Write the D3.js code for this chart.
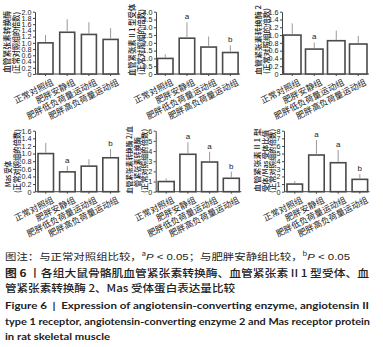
<!DOCTYPE html>
<html>
<head>
<meta charset="utf-8">
<script src="https://cdn.jsdelivr.net/npm/d3@7"></script>
<style>
  body { margin: 0; background: #fff; }
  svg { display: block; font-family: "Liberation Sans", Arial, sans-serif; }
  .cn { font-family: "Noto Sans CJK SC", sans-serif; }
  .en { font-family: Lato, "Open Sans", sans-serif; }
</style>
</head>
<body>
<svg id="chart" width="383" height="347"></svg>
<script>
// groups on the x axis
const groups = ["正常对照组", "肥胖安静组", "肥胖低负荷量运动组", "肥胖高负荷量运动组"];

// ACE
const aceMean = [1.0, 1.34, 1.27, 1.11];
const aceSd = [0.25, 0.42, 0.39, 0.36];
const aceSig = ["", "", "", ""];
const aceTicks = [0, 0.2, 0.4, 0.6, 0.8, 1.0, 1.2, 1.4, 1.6, 1.8, 2.0];

// AT1R
const at1Mean = [1.0, 2.3, 1.73, 1.38];
const at1Sd = [0.26, 1.02, 0.68, 0.46];
const at1Sig = ["", "a", "", "b"];
const at1Ticks = [0, 0.5, 1.0, 1.5, 2.0, 2.5, 3.0, 3.5, 4.0];

// ACE2
const ace2Mean = [1.0, 0.64, 0.855, 0.77];
const ace2Sd = [0.3, 0.17, 0.26, 0.21];
const ace2Sig = ["", "a", "", ""];
const ace2Ticks = [0, 0.2, 0.4, 0.6, 0.8, 1.0, 1.2, 1.4, 1.6];

// Mas
const masMean = [1.0, 0.52, 0.67, 0.89];
const masSd = [0.28, 0.15, 0.18, 0.23];
const masSig = ["", "a", "", "b"];
const masTicks = [0, 0.2, 0.4, 0.6, 0.8, 1.0, 1.2, 1.4, 1.6];

// ACE2/ACE
const ratio1Mean = [1.0, 3.68, 2.92, 1.32];
const ratio1Sd = [0.3, 1.18, 1.01, 0.65];
const ratio1Sig = ["", "a", "a", "b"];
const ratio1Ticks = [0, 1, 2, 3, 4, 5, 6];

// AT1R/Mas
const ratio2Mean = [1.0, 4.81, 3.8, 1.62];
const ratio2Sd = [0.4, 1.97, 1.67, 0.7];
const ratio2Sig = ["", "a", "a", "b"];
const ratio2Ticks = [0, 1, 2, 3, 4, 5, 6, 7, 8];

// y labels, one list of lines per panel
const aceLabel = ["血管紧张素转换酶", "(正常对照组的倍数)"];
const at1Label = ["血管紧张素 II 1 型受体", "(正常对照组的倍数)"];
const ace2Label = ["血管紧张素转换酶 2", "(正常对照组的倍数)"];
const masLabel = ["Mas 受体", "(正常对照组的倍数)"];
const ratio1Label = ["血管紧张素转换酶 2/血", "管紧张素转换酶", "(正常对照组的倍数)"];
const ratio2Label = ["血管紧张素 II 1 型", "受体/Mas 受体比值", "(正常对照组的倍数)"];

const panels = [
  {mean: aceMean, sd: aceSd, sig: aceSig, ticks: aceTicks, dec: true, label: aceLabel,
   lx: [6, 15], ly: [42, 43], ll: [62, 62], fs: 7.8,
   ax: 35, top: 11.7, bot: 74, gap: 3, step: 21.7, w: 15},
  {mean: at1Mean, sd: at1Sd, sig: at1Sig, ticks: at1Ticks, dec: true, label: at1Label,
   lx: [131, 140], ly: [40, 42], ll: [72, 66], fs: 7.6,
   ax: 156, top: 11.7, bot: 74, gap: 1.5, step: 21.7, w: 15.5},
  {mean: ace2Mean, sd: ace2Sd, sig: ace2Sig, ticks: ace2Ticks, dec: true, label: ace2Label,
   lx: [257, 265.5], ly: [40, 41], ll: [70, 66], fs: 7.4,
   ax: 282, top: 11.7, bot: 74, gap: 1.5, step: 22, w: 17.5},
  {mean: masMean, sd: masSd, sig: masSig, ticks: masTicks, dec: true, label: masLabel,
   lx: [7, 16], ly: [174, 161], ll: [26, 64], fs: 7.8,
   ax: 35, top: 130.7, bot: 191.7, gap: 3, step: 21.6, w: 15.5},
  {mean: ratio1Mean, sd: ratio1Sd, sig: ratio1Sig, ticks: ratio1Ticks, dec: false, label: ratio1Label,
   lx: [129, 136.5, 144], ly: [160, 162, 161], ll: [68, 50, 64], fs: 7,
   ax: 155.7, top: 130.7, bot: 191.7, gap: 2.5, step: 21.7, w: 16},
  {mean: ratio2Mean, sd: ratio2Sd, sig: ratio2Sig, ticks: ratio2Ticks, dec: false, label: ratio2Label,
   lx: [257, 264.5, 272], ly: [160, 161, 161], ll: [64, 62, 64], fs: 7,
   ax: 284, top: 130.7, bot: 191.7, gap: 3, step: 21.7, w: 15.5}
];

const svg = d3.select("#chart");
svg.append("rect").attr("width", 383).attr("height", 347).attr("fill", "#fff");

panels.forEach(p => {
  const g = svg.append("g");

  const x = d3.scaleBand()
    .domain(groups)
    .range([p.ax + p.gap, p.ax + p.gap + 3 * p.step + p.w])
    .paddingInner(1 - p.w / p.step)
    .paddingOuter(0);

  const y = d3.scaleLinear()
    .domain([0, d3.max(p.ticks)])
    .range([p.bot, p.top]);

  const fmt = d => d === 0 ? "0" : (p.dec ? d3.format(".1f")(d) : d3.format("d")(d));

  // y axis
  const yAxisGroup = g.append("g")
    .attr("transform", `translate(${p.ax},0)`)
    .call(d3.axisLeft(y).tickValues(p.ticks).tickSize(2).tickSizeOuter(0).tickPadding(1.5).tickFormat(fmt));
  yAxisGroup.select(".domain").attr("stroke", "#444");
  yAxisGroup.selectAll(".tick line").attr("stroke", "#444");
  yAxisGroup.selectAll(".tick text")
    .attr("font-size", 7.2)
    .attr("fill", "#222")
    .attr("font-family", "Liberation Sans, Arial, sans-serif");

  // x axis
  const xEnd = p.ax + p.gap + 3 * p.step + p.w + 2;
  g.append("line")
    .attr("x1", p.ax).attr("x2", xEnd)
    .attr("y1", p.bot).attr("y2", p.bot)
    .attr("stroke", "#444");

  const xAxisGroup = g.append("g")
    .attr("transform", `translate(0,${p.bot})`)
    .call(d3.axisBottom(x).tickSize(2).tickSizeOuter(0).tickPadding(2));
  xAxisGroup.select(".domain").remove();
  xAxisGroup.selectAll(".tick line").attr("stroke", "#444");
  xAxisGroup.selectAll(".tick text")
    .attr("class", "cn")
    .attr("font-size", 8.6)
    .attr("fill", "#222")
    .attr("text-anchor", "end")
    .attr("dy", "0.75em")
    .attr("transform", "translate(4,1) rotate(-27)");

  // bars
  g.selectAll(".bar")
    .data(p.mean)
    .enter()
    .append("rect")
    .attr("class", "bar")
    .attr("x", (d, i) => x(groups[i]))
    .attr("y", d => y(d))
    .attr("width", x.bandwidth())
    .attr("height", d => p.bot - y(d))
    .attr("fill", "#fff")
    .attr("stroke", "#4a4a4a")
    .attr("stroke-width", 1.6);

  // error bars (upper only)
  g.selectAll(".err")
    .data(p.mean)
    .enter()
    .append("line")
    .attr("class", "err")
    .attr("x1", (d, i) => x(groups[i]) + x.bandwidth() / 2)
    .attr("x2", (d, i) => x(groups[i]) + x.bandwidth() / 2)
    .attr("y1", d => y(d) - 0.8)
    .attr("y2", (d, i) => y(d + p.sd[i]))
    .attr("stroke", "#999")
    .attr("stroke-width", 1);

  // significance letters
  g.selectAll(".sig")
    .data(p.sig)
    .enter()
    .append("text")
    .attr("class", "sig")
    .attr("x", (d, i) => x(groups[i]) + x.bandwidth() / 2)
    .attr("y", (d, i) => y(p.mean[i] + p.sd[i]) - 3)
    .attr("text-anchor", "middle")
    .attr("font-size", 8)
    .attr("fill", "#222")
    .text(d => d);

  // y label
  p.label.forEach((t, i) => {
    g.append("text")
      .attr("class", "cn")
      .attr("transform", `translate(${p.lx[i]},${p.ly[i]}) rotate(-90)`)
      .attr("text-anchor", "middle")
      .attr("dominant-baseline", "central")
      .attr("font-size", p.fs)
      .attr("font-weight", 500)
      .attr("fill", "#222")
      .attr("textLength", p.ll[i])
      .attr("lengthAdjust", "spacingAndGlyphs")
      .text(t);
  });
});

// caption
const cap = svg.append("g").attr("fill", "#222");

const c1 = cap.append("text").attr("class", "cn").attr("x", 5).attr("y", 260)
  .attr("font-size", 9.2).attr("textLength", 345).attr("lengthAdjust", "spacingAndGlyphs");
c1.append("tspan").text("图注：与正常对照组比较，");
c1.append("tspan").attr("font-size", 6).attr("baseline-shift", "super").text("a");
c1.append("tspan").attr("font-style", "italic").attr("font-family", "Liberation Sans, Arial").text("P");
c1.append("tspan").attr("font-family", "Liberation Sans, Arial").text(" < 0.05");
c1.append("tspan").text("；与肥胖安静组比较，");
c1.append("tspan").attr("font-size", 6).attr("baseline-shift", "super").text("b");
c1.append("tspan").attr("font-style", "italic").attr("font-family", "Liberation Sans, Arial").text("P");
c1.append("tspan").attr("font-family", "Liberation Sans, Arial").text(" < 0.05");

const c2 = cap.append("text").attr("class", "cn").attr("x", 5).attr("y", 277)
  .attr("font-size", 10.5).attr("textLength", 364).attr("lengthAdjust", "spacingAndGlyphs")
  .attr("font-weight", 500);
c2.append("tspan").attr("font-weight", 700).text("图 6 ");
c2.append("tspan").text("丨各组大鼠骨骼肌血管紧张素转换酶、血管紧张素 II 1 型受体、血");

cap.append("text").attr("class", "cn").attr("x", 5).attr("y", 292)
  .attr("font-size", 10.5).attr("font-weight", 500)
  .attr("textLength", 230).attr("lengthAdjust", "spacingAndGlyphs")
  .text("管紧张素转换酶 2、Mas 受体蛋白表达量比较");

const enLines = [
  {t: "Figure 6  |  Expression of angiotensin-converting enzyme, angiotensin II", y: 309, len: 364},
  {t: "type 1 receptor, angiotensin-converting enzyme 2 and Mas receptor protein", y: 325, len: 365},
  {t: "in rat skeletal muscle", y: 340, len: 105}
];
cap.selectAll(".enl")
  .data(enLines)
  .enter()
  .append("text")
  .attr("class", "en enl")
  .attr("x", 5)
  .attr("y", d => d.y)
  .attr("font-size", 10)
  .attr("font-weight", 700)
  .attr("xml:space", "preserve")
  .style("white-space", "pre")
  .attr("textLength", d => d.len)
  .attr("lengthAdjust", "spacingAndGlyphs")
  .text(d => d.t);
</script>
</body>
</html>
